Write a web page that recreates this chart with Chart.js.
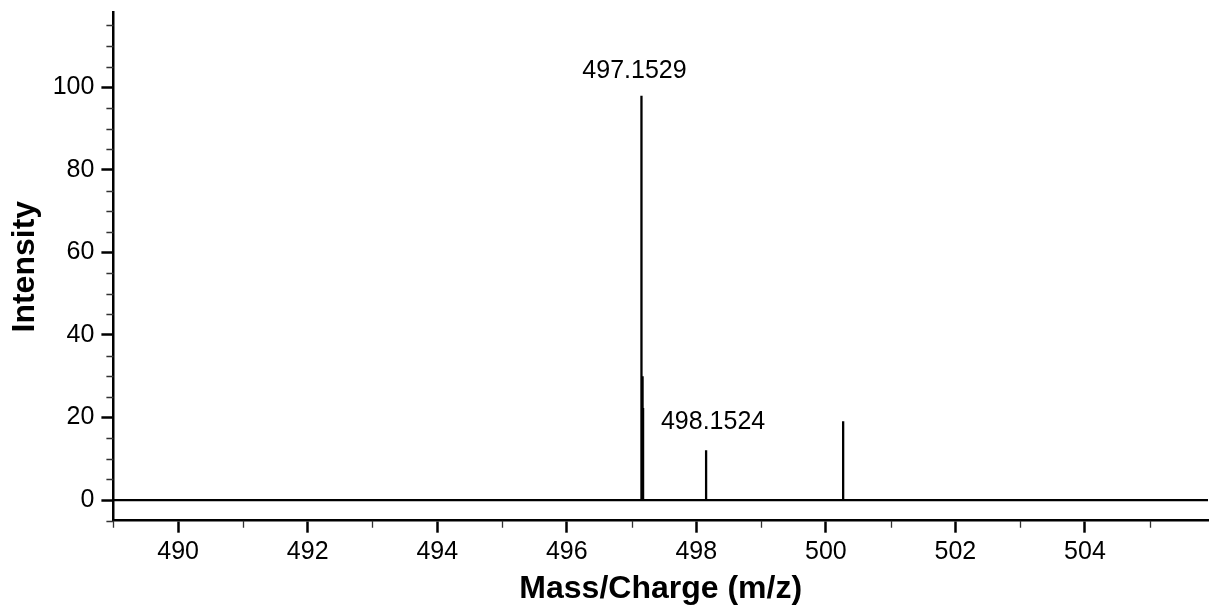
<!DOCTYPE html>
<html>
<head>
<meta charset="utf-8">
<script src="https://cdn.jsdelivr.net/npm/chart.js@4.4.1/dist/chart.umd.min.js"></script>
<style>
  body { margin: 0; background: #fff; }
  #wrap { width: 1209px; height: 608px; }
</style>
</head>
<body>
<div id="wrap"><canvas id="spectrum" width="1209" height="608"></canvas></div>
<script>
// peaks (m/z, relative intensity)
const peakMz = [497.153, 497.170, 497.178, 498.151, 500.267];
const peakIntensity = [98, 30, 22.3, 12.1, 19.1];

// annotated peaks
const labelMz = [497.153, 498.151];
const labelIntensity = [98, 12.1];
const labelText = ["497.1529", "498.1524"];

// axis ticks
const xTicks = [490, 492, 494, 496, 498, 500, 502, 504];
const xMinorTicks = [489, 491, 493, 495, 497, 499, 501, 503, 505];
const yTicks = [0, 20, 40, 60, 80, 100];
const yMinorTicks = [-5, 5, 10, 15, 25, 30, 35, 45, 50, 55, 65, 70, 75, 85, 90, 95, 105, 110, 115];

const xMin = 489, xMax = 505.9;
const yMin = -5, yMax = 118.1;

const FONT = "Helvetica, Arial, 'Liberation Sans', sans-serif";

// stick spectrum on a zero baseline
const points = [{ x: xMin, y: 0 }];
peakMz.forEach((mz, i) => {
  points.push({ x: mz, y: 0 });
  points.push({ x: mz, y: peakIntensity[i] });
  points.push({ x: mz, y: 0 });
});
points.push({ x: xMax, y: 0 });

const extras = {
  id: "extras",
  afterDraw(chart, args, opts) {
    const ctx = chart.ctx;
    const xs = chart.scales.x;
    const ys = chart.scales.y;
    const area = chart.chartArea;
    ctx.save();
    // minor ticks
    ctx.strokeStyle = "#333";
    ctx.lineWidth = 1.3;
    ctx.beginPath();
    xMinorTicks.forEach((v) => {
      const px = Math.round(xs.getPixelForValue(v)) + 0.5;
      ctx.moveTo(px, area.bottom);
      ctx.lineTo(px, area.bottom + 7);
    });
    yMinorTicks.forEach((v) => {
      const py = Math.round(ys.getPixelForValue(v)) + 0.5;
      ctx.moveTo(area.left, py);
      ctx.lineTo(area.left - 7, py);
    });
    ctx.stroke();
    // peak annotations
    ctx.fillStyle = "#000";
    ctx.font = "25px " + FONT;
    ctx.textAlign = "center";
    ctx.textBaseline = "alphabetic";
    labelText.forEach((t, i) => {
      const px = xs.getPixelForValue(labelMz[i]) + opts.shift[i];
      const py = ys.getPixelForValue(labelIntensity[i]) - opts.gap[i];
      ctx.fillText(t, px, py);
    });
    ctx.restore();
  },
};

new Chart(document.getElementById("spectrum"), {
  type: "line",
  data: {
    datasets: [
      {
        data: points,
        borderColor: "#000",
        borderWidth: 2.3,
        pointRadius: 0,
        tension: 0,
        fill: false,
      },
    ],
  },
  options: {
    responsive: false,
    animation: false,
    devicePixelRatio: 1,
    layout: { padding: { top: 12.7, right: 1, left: 0, bottom: 0 } },
    plugins: {
      legend: { display: false },
      tooltip: { enabled: false },
      extras: { shift: [-7, 7], gap: [18, 21] },
    },
    scales: {
      x: {
        type: "linear",
        min: xMin,
        max: xMax,
        afterBuildTicks: (scale) => {
          scale.ticks = xTicks.map((v) => ({ value: v }));
        },
        afterFit: (scale) => {
          scale.height = 87.3;
          scale.paddingLeft = 0;
          scale.paddingRight = 0;
        },
        ticks: {
          color: "#000",
          font: { family: FONT, size: 25 },
          padding: 4,
          maxRotation: 0,
          autoSkip: false,
          callback: (v) => String(v),
        },
        grid: {
          drawOnChartArea: false,
          drawTicks: true,
          tickLength: 12,
          tickWidth: 2.5,
          tickColor: "#000",
        },
        border: { display: true, color: "#000", width: 2.5 },
        title: {
          display: true,
          text: "Mass/Charge (m/z)",
          color: "#000",
          font: { family: FONT, size: 32, weight: "bold" },
          padding: { top: 0, bottom: 0 },
        },
      },
      y: {
        type: "linear",
        min: yMin,
        max: yMax,
        afterBuildTicks: (scale) => {
          scale.ticks = yTicks.map((v) => ({ value: v }));
        },
        afterFit: (scale) => {
          scale.width = 113.4;
          scale.paddingTop = 0;
          scale.paddingBottom = 0;
        },
        ticks: {
          color: "#000",
          font: { family: FONT, size: 25 },
          padding: 7,
          callback: (v) => String(v),
        },
        grid: {
          drawOnChartArea: false,
          drawTicks: true,
          tickLength: 12,
          tickWidth: 2.5,
          tickColor: "#000",
        },
        border: { display: true, color: "#000", width: 2.5 },
        title: {
          display: true,
          text: "Intensity",
          color: "#000",
          font: { family: FONT, size: 32, weight: "bold" },
          padding: { top: 6, bottom: 0 },
        },
      },
    },
  },
  plugins: [extras],
});
</script>
</body>
</html>
